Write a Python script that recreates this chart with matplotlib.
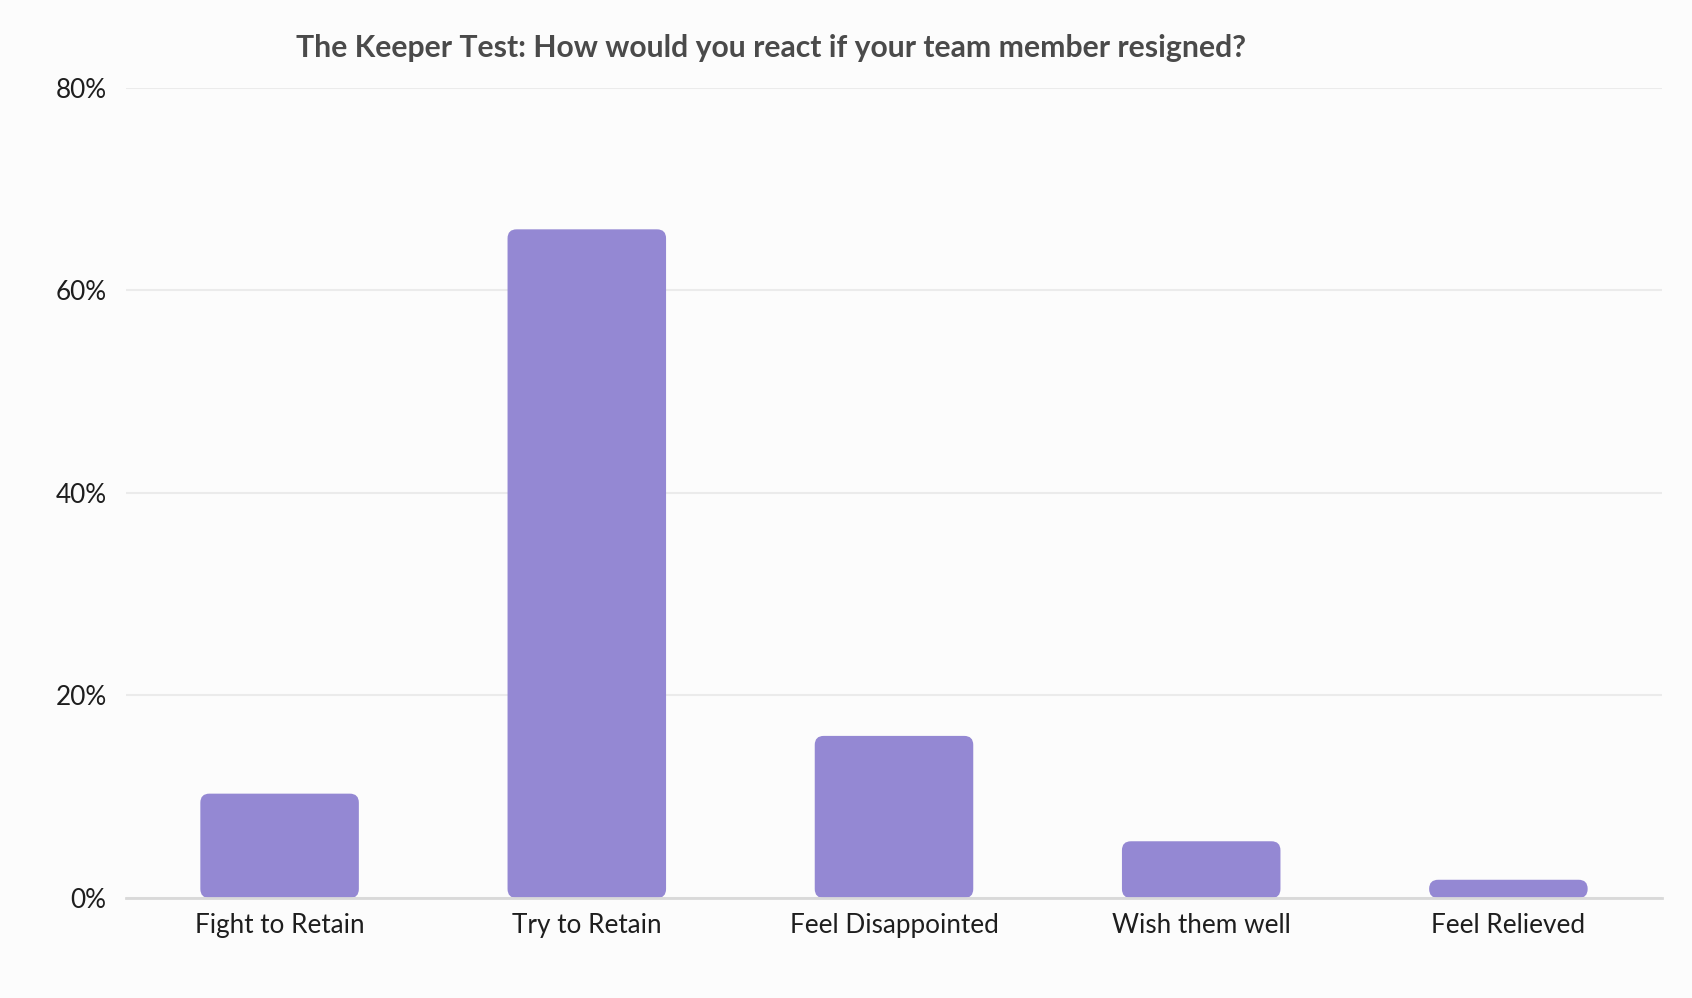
import matplotlib
matplotlib.use("Agg")
import matplotlib.pyplot as plt
from matplotlib.patches import FancyBboxPatch
from matplotlib.ticker import FuncFormatter

categories = ["Fight to Retain", "Try to Retain", "Feel Disappointed", "Wish them well", "Feel Relieved"]
values = [10.3, 66.0, 16.0, 5.6, 1.8]
yticks = [0, 20, 40, 60, 80]
title = "The Keeper Test: How would you react if your team member resigned?"

BG = "#FCFCFC"
BAR = "#9488D3"
W, H = 1692, 998
DPI = 100

plt.rcParams["font.family"] = ["Lato", "DejaVu Sans"]

fig = plt.figure(figsize=(W / DPI, H / DPI), dpi=DPI, facecolor=BG)
left, right, top, bottom = 126, 1662, 87.5, 898
ax = fig.add_axes([left / W, 1 - bottom / H, (right - left) / W, (bottom - top) / H])
ax.set_facecolor(BG)

x = list(range(len(categories)))
bw = 0.516
ax.set_xlim(-0.5, len(categories) - 0.5)
ax.set_ylim(0, 80)

px_per_x = (right - left) / len(categories)
px_per_y = (bottom - top) / 80.0
aspect = px_per_x / px_per_y
r = 9.0 / px_per_x

for xi, v in zip(x, values):
    rr = min(r, (v * px_per_y / 2.0) / px_per_x)
    p = FancyBboxPatch((xi - bw / 2, 0), bw, v,
                       boxstyle=f"round,pad=0,rounding_size={rr}",
                       mutation_aspect=aspect, facecolor=BAR, edgecolor="none",
                       zorder=3)
    ax.add_patch(p)

ax.set_yticks(yticks)
ax.yaxis.set_major_formatter(FuncFormatter(lambda v, p: f"{int(v)}%"))
ax.set_xticks(x)
ax.set_xticklabels(categories)
ax.tick_params(axis="both", length=0, labelsize=18.8, labelcolor="#1E1E1E")
ax.tick_params(axis="y", pad=14)
ax.tick_params(axis="x", pad=11)
ax.grid(axis="y", color="#EBEBEB", linewidth=1.5, zorder=0)
ax.set_axisbelow(True)
for s in ["top", "right", "left"]:
    ax.spines[s].set_visible(False)
ax.spines["bottom"].set_color("#D9D9D9")
ax.spines["bottom"].set_linewidth(2)
ax.spines["bottom"].set_zorder(4)

fig.text(296 / W, 1 - 48 / H, title, ha="left", va="center",
         fontsize=21.7, fontweight="bold", color="#4A4A4A")

fig.savefig("out.png", dpi=DPI, facecolor=BG)
